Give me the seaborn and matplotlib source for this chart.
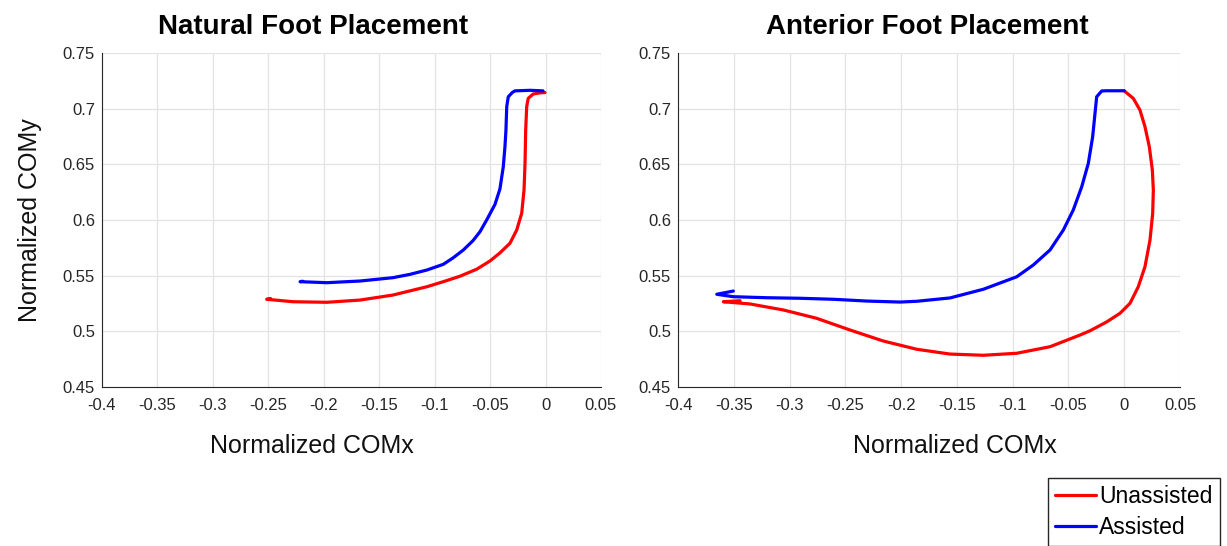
import numpy as np
import pandas as pd
import matplotlib
matplotlib.use("Agg")
import matplotlib.pyplot as plt
import seaborn as sns

# Natural foot placement - trajectories
nat_unassisted_x = [-0.2480, -0.2515, -0.2278, -0.1971, -0.1673, -0.1376, -0.1069, -0.0922, -0.0772,
                    -0.0621, -0.0501, -0.0411, -0.0321, -0.0260, -0.0215, -0.0194, -0.0185, -0.0179,
                    -0.0170, -0.0156, -0.0111, -0.0050, -0.0005]
nat_unassisted_y = [0.5295, 0.5288, 0.5266, 0.5261, 0.5281, 0.5326, 0.5401, 0.5446, 0.5495,
                    0.5558, 0.5632, 0.5705, 0.5791, 0.5910, 0.6060, 0.6270, 0.6509, 0.6808,
                    0.7018, 0.7093, 0.7132, 0.7142, 0.7145]
nat_assisted_x = [-0.2190, -0.2214, -0.1971, -0.1673, -0.1376, -0.1222, -0.1069, -0.0922, -0.0835,
                  -0.0742, -0.0654, -0.0591, -0.0531, -0.0456, -0.0411, -0.0381, -0.0366, -0.0357,
                  -0.0350, -0.0336, -0.0300, -0.0276, -0.0140, -0.0023]
nat_assisted_y = [0.5450, 0.5446, 0.5437, 0.5452, 0.5482, 0.5512, 0.5551, 0.5602, 0.5659,
                  0.5730, 0.5815, 0.5895, 0.6000, 0.6140, 0.6280, 0.6479, 0.6658, 0.6808,
                  0.7018, 0.7107, 0.7145, 0.7160, 0.7165, 0.7160]

# Anterior foot placement
ant_unassisted_x = [-0.3444, -0.3594, -0.3355, -0.3056, -0.2757, -0.2458, -0.2160, -0.1860, -0.1562,
                    -0.1263, -0.0964, -0.0665, -0.0396, -0.0307, -0.0157, -0.0038, 0.0052, 0.0126,
                    0.0186, 0.0231, 0.0255, 0.0261, 0.0252, 0.0225, 0.0186, 0.0141, 0.0081, 0.0001]
ant_unassisted_y = [0.5275, 0.5266, 0.5246, 0.5192, 0.5117, 0.5012, 0.4913, 0.4839, 0.4796,
                    0.4785, 0.4803, 0.4862, 0.4967, 0.5005, 0.5085, 0.5162, 0.5252, 0.5401,
                    0.5581, 0.5820, 0.6060, 0.6269, 0.6449, 0.6658, 0.6838, 0.6988, 0.7093, 0.7159]
ant_assisted_x = [-0.3504, -0.3653, -0.3504, -0.3205, -0.2906, -0.2608, -0.2308, -0.2010, -0.1860,
                  -0.1562, -0.1263, -0.0964, -0.0815, -0.0665, -0.0546, -0.0457, -0.0381, -0.0322,
                  -0.0283, -0.0262, -0.0247, -0.0202, -0.0157, 0.0000]
ant_assisted_y = [0.5362, 0.5333, 0.5311, 0.5302, 0.5297, 0.5288, 0.5272, 0.5263, 0.5270,
                  0.5300, 0.5378, 0.5490, 0.5596, 0.5731, 0.5910, 0.6090, 0.6299, 0.6509,
                  0.6748, 0.6958, 0.7107, 0.7159, 0.7161, 0.7161]

xticks = [-0.4, -0.35, -0.3, -0.25, -0.2, -0.15, -0.1, -0.05, 0, 0.05]
xtick_labels = ["-0.4", "-0.35", "-0.3", "-0.25", "-0.2", "-0.15", "-0.1", "-0.05", "0", "0.05"]
yticks = [0.45, 0.5, 0.55, 0.6, 0.65, 0.7, 0.75]
ytick_labels = ["0.45", "0.5", "0.55", "0.6", "0.65", "0.7", "0.75"]
conditions = ["Unassisted", "Assisted"]
colors = {"Unassisted": "#ff0000", "Assisted": "#0000ff"}


def make_df(ux, uy, ax_, ay):
    d1 = pd.DataFrame({"COMx": ux, "COMy": uy, "condition": "Unassisted"})
    d2 = pd.DataFrame({"COMx": ax_, "COMy": ay, "condition": "Assisted"})
    return pd.concat([d1, d2], ignore_index=True)


df_nat = make_df(nat_unassisted_x, nat_unassisted_y, nat_assisted_x, nat_assisted_y)
df_ant = make_df(ant_unassisted_x, ant_unassisted_y, ant_assisted_x, ant_assisted_y)

sns.set_style("white")
plt.rcParams["font.family"] = ["Liberation Sans", "DejaVu Sans"]

fig = plt.figure(figsize=(12.27, 5.46), dpi=100)
ax1 = fig.add_axes([0.0831, 0.2912, 0.4067, 0.6117])
ax2 = fig.add_axes([0.5526, 0.2912, 0.4091, 0.6117])

panels = [(ax1, df_nat, "Natural Foot Placement", 0.423),
          (ax2, df_ant, "Anterior Foot Placement", 0.496)]

for ax, df, title, tx in panels:
    sns.lineplot(data=df, x="COMx", y="COMy", hue="condition", hue_order=conditions,
                 palette=colors, sort=False, estimator=None, linewidth=2.3,
                 legend=False, ax=ax, solid_capstyle="round", solid_joinstyle="round")
    ax.set_xlim(-0.4, 0.05)
    ax.set_ylim(0.45, 0.75)
    ax.set_xticks(xticks)
    ax.set_xticklabels(xtick_labels)
    ax.set_yticks(yticks)
    ax.set_yticklabels(ytick_labels)
    ax.grid(True, color="#e3e3e3", linewidth=0.9)
    ax.set_axisbelow(True)
    for s in ["top", "right"]:
        ax.spines[s].set_visible(False)
    for s in ["left", "bottom"]:
        ax.spines[s].set_color("#262626")
        ax.spines[s].set_linewidth(0.8)
    ax.tick_params(direction="in", length=4, width=0.8, colors="#262626", labelsize=12)
    ax.tick_params(axis="x", pad=8)
    ax.tick_params(axis="y", pad=5)
    ax.set_title(title, fontsize=20, fontweight="bold", x=tx, pad=14, color="black")
    ax.set_xlabel("Normalized COMx", fontsize=18, color="#111111")
    ax.set_ylabel("")

ax1.set_ylabel("Normalized COMy", fontsize=18, color="#111111")
ax1.yaxis.label.set_va("center")
ax1.yaxis.set_label_coords(-0.144, 0.5)
ax1.xaxis.label.set_va("center")
ax1.xaxis.set_label_coords(0.421, -0.177)
ax2.xaxis.label.set_va("center")
ax2.xaxis.set_label_coords(0.552, -0.177)

leg = fig.legend(handles=ax2.get_lines()[:2], labels=conditions, loc="upper left",
                 bbox_to_anchor=(0.854, 0.1245), fontsize=16.5, frameon=True,
                 fancybox=False, framealpha=1, edgecolor="#262626",
                 handlelength=1.8, handletextpad=0.15, labelspacing=0.35,
                 borderpad=0.3, borderaxespad=0)
leg.get_frame().set_linewidth(1.0)
for t in leg.get_texts():
    t.set_color("black")

plt.savefig("out.png", dpi=100)
